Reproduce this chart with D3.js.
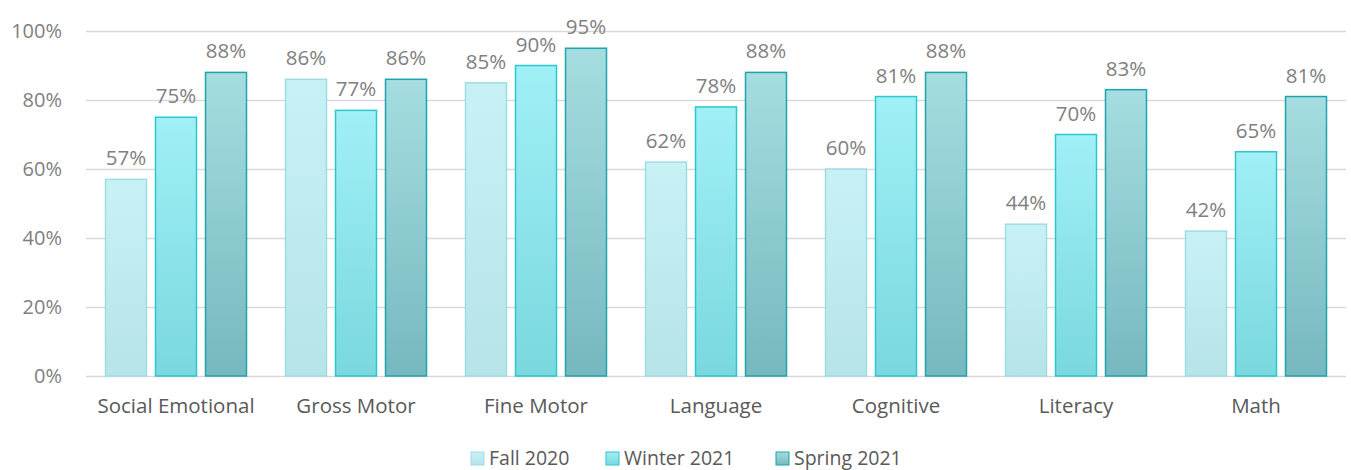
<!DOCTYPE html>
<html>
<head>
<meta charset="utf-8">
<script src="https://cdn.jsdelivr.net/npm/d3@7"></script>
<style>
  body { margin: 0; background: #fff; }
  svg { font-family: "Open Sans", "Liberation Sans", sans-serif; }
</style>
</head>
<body>
<svg id="chart" width="1351" height="470"></svg>
<script>
// 数据
const categories = ["Social Emotional", "Gross Motor", "Fine Motor", "Language", "Cognitive", "Literacy", "Math"];
const seriesNames = ["Fall 2020", "Winter 2021", "Spring 2021"];
const fall2020 = [57, 86, 85, 62, 60, 44, 42];
const winter2021 = [75, 77, 90, 78, 81, 70, 65];
const spring2021 = [88, 86, 95, 88, 88, 83, 81];
const yTicks = [0, 20, 40, 60, 80, 100];

const seriesValues = [fall2020, winter2021, spring2021];
const styles = [
  {top: "#c8f1f6", bottom: "#b6e4e9", stroke: "#9fdde3"},
  {top: "#a0f0f6", bottom: "#79d8de", stroke: "#2bc8d1"},
  {top: "#a5dde0", bottom: "#76b8bf", stroke: "#1ea4ac"}
];

const margin = {top: 31, right: 5, bottom: 94, left: 86},
      width = 1351 - margin.left - margin.right,
      height = 470 - margin.top - margin.bottom;

const svg = d3.select("#chart");
const defs = svg.append("defs");
styles.forEach((s, i) => {
  const grad = defs.append("linearGradient")
    .attr("id", "grad" + i)
    .attr("x1", 0).attr("y1", 0).attr("x2", 0).attr("y2", 1);
  grad.append("stop").attr("offset", "0%").attr("stop-color", s.top);
  grad.append("stop").attr("offset", "100%").attr("stop-color", s.bottom);
});

const g = svg.append("g").attr("transform", `translate(${margin.left},${margin.top})`);

const x = d3.scaleBand().domain(categories).range([0, width]).paddingInner(0).paddingOuter(0);
const x1 = d3.scaleBand().domain(seriesNames).range([19.5, x.bandwidth() - 19.5]).paddingInner(0.18);
const y = d3.scaleLinear().domain([0, 100]).range([height, 0]);

// 网格线
g.selectAll(".grid")
  .data(yTicks)
  .enter()
  .append("line")
  .attr("x1", 0)
  .attr("x2", width)
  .attr("y1", d => y(d) + 0.5)
  .attr("y2", d => y(d) + 0.5)
  .attr("stroke", "#d9d9d9")
  .attr("stroke-width", 1.3);

// y 轴标签
g.selectAll(".ylabel")
  .data(yTicks)
  .enter()
  .append("text")
  .attr("x", -24)
  .attr("y", d => y(d) + 7)
  .attr("text-anchor", "end")
  .attr("font-size", "20px")
  .attr("fill", "#7f7f7f")
  .text(d => d + "%");

// 柱子
seriesNames.forEach((name, si) => {
  const vals = seriesValues[si];
  const grp = g.append("g");
  grp.selectAll("rect")
    .data(categories)
    .enter()
    .append("rect")
    .attr("x", c => x(c) + x1(name))
    .attr("y", (c, i) => y(vals[i]))
    .attr("width", x1.bandwidth())
    .attr("height", (c, i) => height - y(vals[i]))
    .attr("fill", `url(#grad${si})`)
    .attr("stroke", styles[si].stroke)
    .attr("stroke-width", 1.5);
  grp.selectAll("text")
    .data(categories)
    .enter()
    .append("text")
    .attr("x", c => x(c) + x1(name) + x1.bandwidth() / 2)
    .attr("y", (c, i) => y(vals[i]) - 14)
    .attr("text-anchor", "middle")
    .attr("font-size", "20.5px")
    .attr("fill", "#808080")
    .text((c, i) => vals[i] + "%");
});

// x 轴标签
g.selectAll(".xlabel")
  .data(categories)
  .enter()
  .append("text")
  .attr("x", c => x(c) + x.bandwidth() / 2)
  .attr("y", height + 37)
  .attr("text-anchor", "middle")
  .attr("font-size", "20.5px")
  .attr("fill", "#595959")
  .text(c => c);

// 图例
const legendX = [471, 606, 776];
const legend = svg.append("g");
seriesNames.forEach((name, i) => {
  legend.append("rect")
    .attr("x", legendX[i])
    .attr("y", 452)
    .attr("width", 13)
    .attr("height", 13)
    .attr("fill", `url(#grad${i})`)
    .attr("stroke", styles[i].stroke)
    .attr("stroke-width", 1);
  legend.append("text")
    .attr("x", legendX[i] + 18)
    .attr("y", 465)
    .attr("font-size", "19.5px")
    .attr("fill", "#595959")
    .text(name);
});
</script>
</body>
</html>
